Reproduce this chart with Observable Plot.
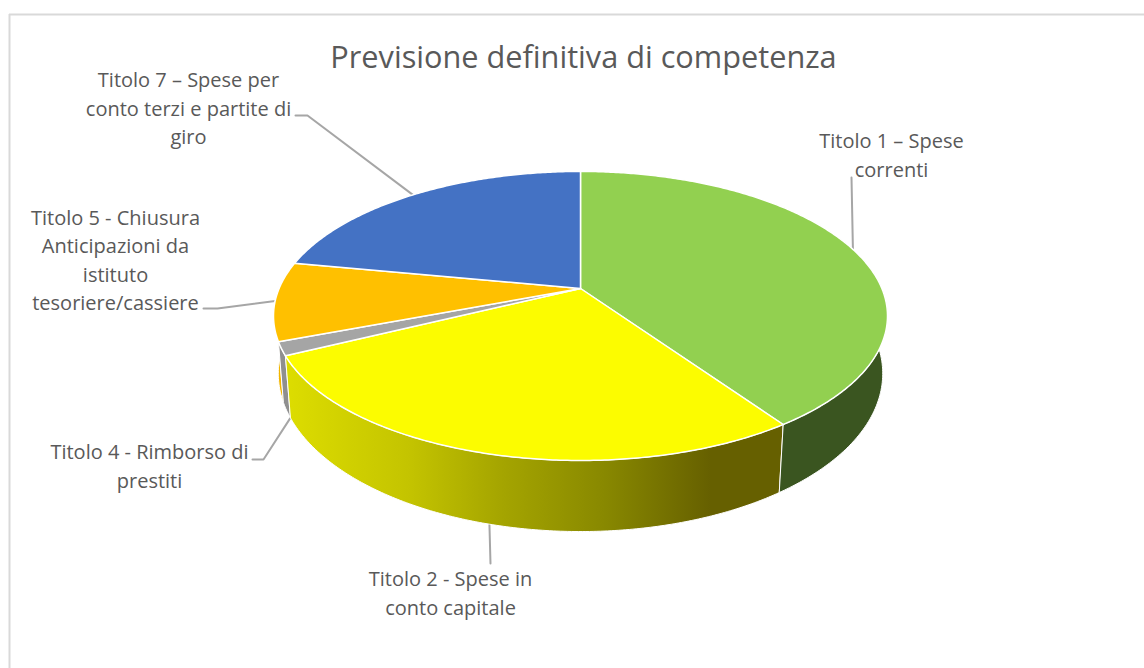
<!DOCTYPE html>
<html>
<head>
<meta charset="utf-8">
<style>html,body{margin:0;padding:0;background:#fff}svg{display:block}</style>
<script src="https://cdn.jsdelivr.net/npm/d3@7"></script>
<script src="https://cdn.jsdelivr.net/npm/@observablehq/plot@0.6"></script>
</head>
<body>
<div id="chart"></div>
<script>
const title = "Previsione definitiva di competenza";
const categories = [
  "Titolo 1 – Spese\ncorrenti",
  "Titolo 2 - Spese in\nconto capitale",
  "Titolo 4 - Rimborso di\nprestiti",
  "Titolo 5 - Chiusura\nAnticipazioni da\nistituto\ntesoriere/cassiere",
  "Titolo 7 – Spese per\nconto terzi e partite di\ngiro"
];
const shares = [40.4, 27.3, 1.5, 8.8, 22.0];
const topColors = ["#92d050", "#fcfc00", "#a5a5a5", "#ffc000", "#4472c4"];
const wallColors = ["#3a5520", "url(#yellowWall)", "#8f8f8f", "#f2b600", "#2a4a80"];

// layout of the labels and their leader lines
const labelX = [891, 450, 149, 115, 188];
const labelY = [153, 591, 464, 258, 106];
const elbows = [[[851, 177]], [[490, 563]], [[252, 459], [263, 459]], [[203, 308], [217, 308]], [[295, 115], [307, 115]]];
const leaderOnBase = [false, true, true, false, false];
const leaderPos = [0.5, 0.5, 0, 0.5, 0.5];

// perspective of the disc: top face and base face
const topFace = {cx: 580, cy: 288, a: 139.3, b: 301.4, k: 0.19};
const baseFace = {cx: 580, cy: 343.8, a: 152.6, b: 297, k: 0.185};
const project = (f, t) => {
  const u = Math.sin(t), v = -Math.cos(t), d = 1 - f.k * v;
  return {x: f.cx + f.b * u / d, y: f.cy + f.a * v / d};
};
const arc = (f, t0, t1) => {
  const n = Math.max(2, Math.ceil(Math.abs(t1 - t0) / 0.01));
  return d3.range(n + 1).map(i => project(f, t0 + (t1 - t0) * i / n));
};

const total = d3.sum(shares);
let acc = 0;
const slices = shares.map((s, i) => {
  const t0 = acc / total * 2 * Math.PI;
  acc += s;
  return {i, t0, t1: acc / total * 2 * Math.PI};
});

const rad = d => d * Math.PI / 180;
const wallMarks = [3, 2, 1, 0].map(i => {
  const s = slices[i];
  const a0 = Math.max(s.t0, rad(60)), a1 = Math.min(s.t1, rad(282));
  const pts = [...arc(topFace, a0, a1), ...arc(baseFace, a1, a0)];
  pts.push(pts[0]);
  return Plot.line(pts, {x: "x", y: "y", fill: wallColors[i], stroke: "#fff", strokeWidth: 1});
});
const topMarks = slices.map(s => {
  const pts = [{x: topFace.cx, y: topFace.cy}, ...arc(topFace, s.t0, s.t1), {x: topFace.cx, y: topFace.cy}];
  return Plot.line(pts, {x: "x", y: "y", fill: topColors[s.i], stroke: "#fff", strokeWidth: 1.5});
});
const leaderMarks = slices.map(s => {
  const t = s.t0 + (s.t1 - s.t0) * leaderPos[s.i];
  const end = project(leaderOnBase[s.i] ? baseFace : topFace, t);
  const pts = [...elbows[s.i].map(([x, y]) => ({x, y})), end];
  return Plot.line(pts, {x: "x", y: "y", stroke: "#a6a6a6", strokeWidth: 2});
});

const defs = () => {
  const d = d3.create("svg:defs");
  const g = d.append("linearGradient").attr("id", "yellowWall")
    .attr("gradientUnits", "userSpaceOnUse")
    .attr("x1", 290).attr("x2", 710).attr("y1", 0).attr("y2", 0);
  [[0, "#dcdc00"], [0.28, "#c4c400"], [0.5, "#a5a500"], [0.75, "#888800"], [1, "#666000"]]
    .forEach(([o, c]) => g.append("stop").attr("offset", o).attr("stop-color", c));
  return d.node();
};

const labelData = categories.map((text, i) => ({text, x: labelX[i], y: labelY[i]}));
const font = "'Open Sans', 'Noto Sans', sans-serif";

const chart = Plot.plot({
  width: 1144, height: 668,
  margin: 0,
  x: {domain: [0, 1144], range: [0, 1144], axis: null},
  y: {domain: [0, 668], range: [0, 668], axis: null},
  style: {background: "#fff", fontFamily: font},
  marks: [
    defs,
    Plot.ruleY([14], {x1: 9, x2: 1144, stroke: "#d9d9d9", strokeWidth: 2}),
    Plot.ruleX([9], {y1: 14, y2: 668, stroke: "#d9d9d9", strokeWidth: 2}),
    ...leaderMarks,
    ...wallMarks,
    ...topMarks,
    Plot.text([title], {x: () => 583, y: () => 58, text: d => d, fontSize: 30.7, fill: "#595959", fontFamily: font}),
    Plot.text(labelData, {x: "x", y: "y", text: "text", fontSize: 20, lineHeight: 1.42, fill: "#595959", fontFamily: font, textAnchor: "middle"})
  ]
});
document.getElementById("chart").append(chart);
</script>
</body>
</html>
